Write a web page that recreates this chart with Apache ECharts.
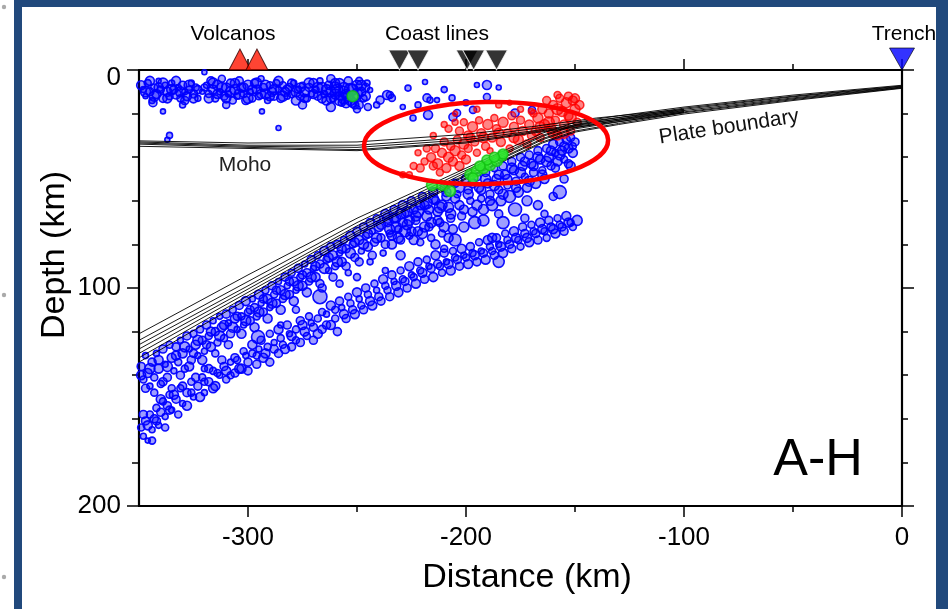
<!DOCTYPE html>
<html><head><meta charset="utf-8">
<script src="https://cdn.jsdelivr.net/npm/echarts@6/dist/echarts.min.js"></script>
<style>html,body{margin:0;padding:0;background:#fff;}#c{width:948px;height:609px;}</style>
</head><body><div id="c"></div>
<script>
// ---- axis ticks ----
const xTicksMajor = [-300, -200, -100, 0];
const xTicksMinor = [-250, -150, -50];
const yTicksMajor = [0, 100, 200];
const yTicksMinor = [20, 40, 60, 80, 120, 140, 160, 180];

// ---- surface markers (distance, km) ----
const volcanoes = [-303.7, -295.9];
const coastLines = [-230.5, -222, -199.5, -196.5, -186];
const trench = [0];

// ---- earthquakes [distance km, depth km, symbol size] ----
const blueShallow = [
[-348,9,6],[-347,12,5],[-346,6,7],[-345,10,8],[-344,14,6],[-343,8,7],[-342,11,9],[-341,5,5],[-340,9,7],[-339,13,8],
[-338,7,6],[-337,10,9],[-336,12,7],[-335,6,6],[-334,9,8],[-333,11,10],[-332,8,6],[-331,13,7],[-330,7,8],[-329,10,6],
[-328,12,9],[-327,9,7],[-326,6,6],[-325,11,8],[-324,8,7],[-323,13,6],[-321,10,5],[-319,7,6],[-318,11,7],[-317,5,8],
[-316,9,9],[-315,13,7],[-314,7,10],[-313,10,6],[-312,4,7],[-311,12,8],[-310,8,9],[-309,11,6],[-308,6,8],[-307,14,7],
[-306,9,10],[-305,12,6],[-304,5,8],[-303,8,9],[-302,11,7],[-301,14,8],[-300,7,10],[-299,10,6],[-298,13,7],[-297,6,8],
[-296,9,9],[-295,12,7],[-294,4,6],[-293,8,8],[-292,11,10],[-291,14,6],[-290,7,7],[-289,10,9],[-288,12,8],[-287,6,7],
[-286,9,6],[-285,13,8],[-284,7,7],[-283,10,9],[-282,12,6],[-281,8,8],[-280,11,7],[-279,6,6],[-278,14,9],[-277,9,7],
[-276,12,8],[-275,7,6],[-274,10,10],[-273,13,7],[-272,8,8],[-271,11,6],[-270,6,9],[-269,9,7],[-268,12,8],[-267,5,6],
[-266,8,10],[-265,11,7],[-264,14,9],[-263,7,8],[-262,10,10],[-261,13,7],[-260,6,9],[-259,9,11],[-258,12,8],[-257,15,7],
[-256,8,10],[-255,11,9],[-254,5,8],[-253,14,10],[-252,9,11],[-251,12,9],[-250,7,10],[-249,16,8],[-248,10,9],[-247,13,7],
[-246,8,8],[-245,17,7],[-262,4,8],[-258,6,9],[-255,15,10],[-251,16,8],[-249,5,7],[-256,13,11],[-260,11,10],[-253,9,12],
[-349,7,9],[-347,10,10],[-345,5,9],[-343,12,10],[-341,8,9],[-339,6,10],[-337,13,9],[-335,9,10],[-333,5,9],[-331,10,10],
[-329,14,8],[-327,7,10],[-325,13,9],[-323,9,8],[-320,8,7],[-318,13,9],[-316,6,10],[-314,11,9],[-312,8,10],[-310,13,9],
[-308,10,10],[-306,6,9],[-304,11,10],[-302,8,9],[-300,13,10],[-298,9,9],[-296,6,10],[-294,11,9],[-292,7,10],[-290,12,9],
[-288,9,10],[-286,5,9],[-284,12,10],[-282,9,9],[-280,6,8],[-278,10,10],[-276,8,9],[-274,13,8],[-272,6,10],[-270,11,9],
[-268,8,10],[-266,13,9],[-264,9,10],[-262,13,9],[-260,8,11],[-258,14,10],[-256,10,11],[-254,12,10],[-252,15,9],[-250,11,11],
[-248,7,10],[-246,12,9]
];
const blueShallowOutliers = [
[-343.6,15,8],[-339,19,5],[-337,32,5],[-336,30,6],[-320,1,5],[-293.6,19,5],[-286,26.6,5],[-330,16,6],[-310,16,7],
[-275,16,8],[-262,17,9],[-250,18,7]
];
const blueWedge = [
[-245.4,6,6],[-244,9.2,5],[-239.4,13.8,8],[-234,12.8,7],[-236.2,11.5,9],[-226.6,8.3,6],[-218.8,5.5,5],[-216.5,13.8,6],
[-217.4,20.6,9],[-206.4,12.8,6],[-196.8,18.3,7],[-195,6.9,5],[-190.4,6.9,9],[-190.4,12.4,7],[-206,21.6,8],[-213.3,13.8,5],
[-234.9,11.5,7],[-204.1,19.7,7],[-169.7,18.3,7],[-177.5,19.7,8],[-224.3,22,6],[-217.9,12.8,8],[-241,16,6],[-229,17,5],
[-222,16,6],[-210,9,6],[-185,8,5],[-200,15,6]
];
const blueUpperPlane = [
[-349,136,8],[-348,142,7],[-347,131,6],[-346,139,9],[-345,145,6],[-344,134,8],[-343,141,7],[-342,130,6],[-341,137,9],[-340,144,7],
[-339,128,8],[-338,135,6],[-337,141,8],[-336,126,7],[-335,132,9],[-334,138,6],[-333,127,8],[-332,134,7],[-331,124,6],[-330,130,9],
[-329,137,7],[-328,122,8],[-327,128,6],[-326,133,8],[-325,121,7],[-324,126,9],[-323,131,6],[-322,119,7],[-321,124,8],[-320,129,6],
[-319,117,8],[-318,122,7],[-317,127,9],[-316,115,6],[-315,120,8],[-314,125,7],[-313,113,6],[-312,118,9],[-311,123,7],[-310,112,8],
[-309,116,6],[-308,121,8],[-307,110,7],[-306,114,9],[-305,119,6],[-304,108,8],[-303,113,7],[-302,117,6],[-301,106,9],[-300,111,7],
[-299,115,8],[-298,105,6],[-297,109,8],[-296,113,7],[-295,103,9],[-294,107,6],[-293,111,8],[-292,101,7],[-291,105,9],[-290,109,6],
[-289,99,8],[-288,103,7],[-287,107,8],[-286,97,6],[-285,101,9],[-284,105,7],[-283,95,8],[-282,99,6],[-281,103,8],[-280,93,7],
[-279,97,9],[-278,101,6],[-277,91,8],[-276,95,7],[-275,99,9],[-274,89,6],[-273,93,8],[-272,97,7],[-271,87,8],[-270,91,6],
[-269,95,9],[-268,85,7],[-267,89,8],[-266,100,8],[-265,83,9],[-264,87,7],[-263,92,6],[-262,81,8],[-261,85,9],[-260,90,7],
[-259,80,8],[-258,84,6],[-257,88,9],[-256,78,7],[-255,82,8],[-254,93,6],[-253,76,9],[-252,80,7],[-251,86,8],[-250,74,8],
[-249,78,9],[-248,83,6],[-247,72,8],[-246,76,7],[-245,81,9],[-244,70,8],[-243,74,6],[-242,79,8],[-241,68,7],[-240,72,9],
[-239,77,8],[-238,84,6],[-237,66,9],[-236,70,8],[-235,75,7],[-234,80,9],[-233,64,8],[-232,68,9],[-231,73,7],[-230,78,8],
[-229,62,9],[-228,66,8],[-227,71,10],[-226,76,7],[-225,60,8],[-224,64,9],[-223,69,8],[-222,74,9],[-221,79,7],[-220,58,8],
[-219,62,9],[-218,67,10],[-217,72,8],[-216,77,7],[-215,56,9],[-214,60,8],[-213,65,9],[-212,70,8],[-211,75,7],[-210,54,8],
[-209,58,9],[-208,63,10],[-207,68,8],[-206,73,9],[-205,52,8],[-204,57,7],[-203,62,9],[-202,67,8],[-201,72,10],[-200,50,9],
[-199,55,8],[-198,60,7],[-197,65,9],[-196,70,12],[-195,49,8],[-194,54,9],[-193,59,7],[-192,64,10],[-191,47,8],[-190,52,9],
[-189,57,8],[-188,62,11],[-187,45,7],[-186,50,9],[-185,55,8],[-184,60,10],[-183,44,8],[-182,48,9],[-181,53,7],[-180,58,12],
[-179,42,8],[-178,46,9],[-177,51,8],[-176,56,10],[-175,40,8],[-174,44,9],[-173,49,7],[-172,54,9],[-171,39,8],[-170,43,9],
[-169,47,8],[-168,52,10],[-167,37,8],[-166,41,9],[-165,46,7],[-164,50,9],[-163,36,8],[-162,40,9],[-161,44,8],[-160,34,9],
[-159,38,7],[-158,42,9],[-157,33,8],[-156,37,9],[-155,41,7],[-154,32,8],[-153,36,9],[-152,31,8],[-151,35,7],[-150,33,8],
[-349,140,9],[-347,146,8],[-345,137,10],[-343,148,7],[-341,133,9],[-339,143,8],[-337,136,10],[-335,146,7],[-333,131,9],[-331,140,8],
[-329,127,10],[-327,136,9],[-325,130,8],[-323,124,10],[-321,133,9],[-319,126,8],[-317,120,9],[-315,130,7],[-313,122,10],[-311,117,9],
[-309,126,8],[-307,118,10],[-305,113,8],[-303,121,9],[-301,115,10],[-299,110,8],[-297,118,9],[-295,111,10],[-293,105,8],[-291,114,9],
[-289,107,10],[-287,101,8],[-285,110,9],[-283,103,10],[-281,97,8],[-279,106,9],[-277,99,10],[-275,94,8],[-273,102,9],[-271,95,10],
[-269,90,9],[-267,98,8],[-265,91,10],[-263,86,9],[-261,95,8],[-259,88,10],[-257,82,9],[-255,90,8],[-253,84,10],[-251,79,9],
[-249,88,8],[-247,80,10],[-245,75,9],[-243,85,8],[-241,77,10],[-239,71,9],[-237,80,8],[-235,73,10],[-233,68,9],[-231,77,10],
[-229,70,9],[-227,65,10],[-225,74,9],[-223,67,10],[-221,62,9],[-219,72,10],[-217,64,9],[-215,59,10],[-213,69,9],[-211,62,10],
[-209,56,9],[-207,66,10],[-205,59,9],[-203,54,10],[-201,64,9],[-199,57,10],[-197,52,9],[-195,62,10],[-193,55,9],[-191,50,10],
[-189,60,9],[-187,53,10],[-185,48,9],[-183,57,10],[-181,50,9],[-179,45,10],[-177,54,9],[-175,47,10],[-173,42,9],[-171,51,10],
[-169,44,9],[-167,40,10],[-165,48,9],[-163,42,10],[-161,37,9],[-159,45,8],[-157,39,10],[-155,35,9],[-153,43,8],[-151,38,9],
[-230,66,10],[-228,74,11],[-226,69,10],[-224,78,9],[-222,65,11],[-220,75,10],[-218,61,11],[-216,70,10],[-214,80,9],[-212,63,11],
[-210,72,10],[-208,77,9],[-232,72,10],[-234,76,9],[-236,68,10]
];
const blueLowerPlane = [
[-349,164,7],[-348,168,6],[-347,161,8],[-346,170,5],[-345,158,7],[-344,165,6],[-343,160,8],[-342,155,7],[-341,163,6],[-340,157,8],
[-339,152,7],[-338,159,6],[-337,154,8],[-336,149,7],[-335,156,6],[-333,151,8],[-331,146,7],[-330,153,6],[-328,148,8],[-326,143,7],
[-325,150,6],[-323,145,8],[-321,141,7],[-320,148,6],[-318,143,8],[-316,138,7],[-315,145,9],[-313,140,6],[-311,136,8],[-310,142,7],
[-308,134,6],[-306,139,8],[-305,133,7],[-303,137,9],[-301,131,6],[-300,138,8],[-298,130,7],[-296,135,8],[-295,128,6],[-293,132,9],
[-291,127,7],[-290,134,8],[-288,125,6],[-286,130,8],[-285,123,7],[-283,128,9],[-281,121,6],[-280,127,8],[-278,119,7],[-276,125,8],
[-275,117,9],[-273,122,7],[-271,116,6],[-270,124,8],[-268,114,7],[-266,119,8],[-264,112,6],[-262,117,9],[-260,110,7],[-259,120,8],
[-257,109,6],[-255,114,8],[-253,107,7],[-251,112,9],[-249,105,6],[-247,110,8],[-245,103,7],[-243,108,9],[-241,101,6],[-239,106,8],
[-237,99,7],[-235,104,8],[-233,97,6],[-231,102,9],[-229,96,7],[-227,100,8],[-225,94,6],[-223,98,9],[-221,92,7],[-219,96,8],
[-217,90,6],[-215,95,9],[-213,89,8],[-211,93,7],[-209,88,6],[-207,92,9],[-205,86,7],[-203,90,8],[-201,85,6],[-199,89,9],
[-197,84,7],[-195,88,8],[-193,83,6],[-191,87,9],[-189,81,7],[-187,85,8],[-185,80,6],[-183,84,9],[-181,78,7],[-179,82,8],
[-177,77,9],[-175,81,7],[-173,75,8],[-171,79,9],[-169,74,7],[-167,78,8],[-165,73,9],[-163,77,7],[-161,72,8],[-159,75,9],
[-157,71,7],[-155,74,8],[-153,70,9],[-151,72,7],
[-348,158,8],[-346,163,9],[-344,170,7],[-342,161,8],[-340,151,9],[-338,164,7],[-336,156,8],[-334,149,9],[-332,158,7],[-330,145,8],
[-328,154,9],[-326,148,7],[-324,141,8],[-322,150,9],[-320,143,7],[-318,137,8],[-316,146,9],[-314,139,7],[-312,133,8],[-310,138,9],
[-308,140,7],[-306,132,8],[-304,137,9],[-302,129,7],[-300,134,8],[-298,126,9],[-296,131,7],[-294,124,8],[-292,130,9],[-290,121,7],
[-288,128,8],[-286,119,9],[-284,126,7],[-282,117,8],[-280,122,9],[-278,124,7],[-276,115,8],[-274,120,9],[-272,113,7],[-270,118,8],
[-268,121,9],[-266,111,7],[-264,117,8],[-262,108,9],[-260,114,7],[-258,106,8],[-256,112,9],[-254,104,7],[-252,110,8],[-250,102,9],
[-248,108,7],[-246,100,8],[-244,106,9],[-242,98,7],[-240,104,8],[-238,96,9],[-236,101,7],[-234,94,8],[-232,99,9],[-230,92,7],
[-228,97,8],[-226,90,9],[-224,95,7],[-222,88,8],[-220,93,9],[-218,87,7],[-216,91,8],[-214,85,9],[-212,90,7],[-210,84,8],
[-208,89,9],[-206,83,7],[-204,87,8],[-202,82,9],[-200,86,7],[-198,81,8],[-196,85,9],[-194,79,7],[-192,84,8],[-190,78,9],
[-188,83,7],[-186,77,8],[-184,81,9],[-182,75,7],[-180,80,8],[-178,74,9],[-176,78,7],[-174,72,8],[-172,77,9],[-170,71,7],
[-168,75,8],[-166,70,9],[-164,74,7],[-162,69,8],[-160,73,9],[-158,68,7],[-156,72,8],[-154,67,9],[-152,70,7]
];
const blueLarge = [
[-157,56,13],[-177.5,64,13],[-183,70,12],[-149,69,10],[-167,62,9],[-160,58,8],[-173,68,8],[-192,69,11],[-205,78,12],
[-188,77,9],[-172,60,10],[-164,66,7],[-185,88,11],[-230,85,9],[-267,104,14],[-250,95,7],[-278,110,7],[-295.4,122.5,13],
[-237,92,6],[-210,82,7],[-185,66,8],[-155,50,8],[-152,44,9],[-258,98,7],[-244,88,6],[-320,137,6],[-285,117,6]
];
const redQuakes = [
[-216,40,9],[-214,36,8],[-213,43,10],[-211,38,9],[-210,33,8],[-209,45,9],[-208,40,10],[-207,35,8],[-206,42,9],[-205,37,10],
[-204,32,8],[-203,44,9],[-202,39,8],[-201,34,10],[-200,41,9],[-199,36,8],[-198,31,9],[-215,44,8],[-212,47,7],[-219,42,7],
[-221,45,8],[-224,44,7],[-229,48,6],[-226,48,6],[-218,36,7],
[-203,28,8],[-201,24,7],[-199,30,9],[-197,26,10],[-196,33,8],[-194,23,7],[-193,29,9],[-191,35,8],[-190,25,10],[-188,31,9],
[-187,22,7],[-186,27,8],[-184,33,9],[-183,24,10],[-181,29,8],[-180,36,7],[-179,21,8],[-178,26,9],[-176,32,10],[-175,23,8],
[-174,28,9],[-172,34,8],[-171,25,9],[-195,38,7],[-189,37,6],[-205,24,6],[-208,27,7],[-210,25,6],
[-168,28,9],[-167,22,10],[-166,31,8],[-165,18,9],[-164,25,10],[-163,14,8],[-162,20,9],[-161,27,10],[-160,16,9],[-159,23,8],
[-158,30,9],[-157,13,8],[-156,19,10],[-155,25,9],[-154,15,10],[-153,21,9],[-152,28,8],[-151,14,9],[-150,18,10],[-149,24,8],
[-148,16,9],[-169,20,7],[-170,30,8],[-158,11.5,7],[-170,19,6],[-153,12,8],[-150,13,9],
[-205,20,5],[-195,18,6],[-185,16,6],[-180,15,5],[-175,18,6],[-215,30,6],[-222,38,6],
[-162,24,11],[-158,18,11],[-155,29,10],[-152,22,11],[-166,26,10],[-160,29,10],[-192,31,10],[-185,29,10],[-178,31,10]
];
const greenQuakes = [
[-252,12,11],[-215.6,52.8,11],[-211,53,10],[-207.3,55.5,11],[-198,48,11],[-195,46.3,11],[-192,45,11],[-189,43.6,11],
[-185.8,41.7,11],[-183.5,39.4,10],[-183,38.5,10],[-190.4,41.3,10],[-196.8,49.5,10],[-193.6,44,10],[-187,40,10]
];

// ---- model lines [distance km, depth km] ----
const plateBoundary1 = [[0,7],[-50,11.5],[-100,17],[-130,21],[-150,24],[-165,29],[-200,45],[-250,68],[-300,94],[-350,121]];
const plateBoundary2 = [[0,7.3],[-50,12],[-100,17.5],[-130,21.8],[-150,25],[-165,30],[-200,46],[-250,70],[-300,97],[-350,124]];
const plateBoundary3 = [[0,7.5],[-50,12.3],[-100,18],[-130,22.5],[-150,25.5],[-165,30.5],[-200,47],[-250,71.5],[-300,99],[-350,126]];
const plateBoundary4 = [[0,7.8],[-50,12.8],[-100,18.6],[-130,23],[-150,26.5],[-165,31.5],[-200,48],[-250,72.5],[-300,100.5],[-350,128]];
const plateBoundary5 = [[0,8],[-50,13.2],[-100,19.2],[-130,23.8],[-150,27],[-165,32],[-200,48.5],[-250,74],[-300,102],[-350,130]];
const plateBoundary6 = [[0,8.2],[-50,13.6],[-100,19.6],[-130,24.5],[-150,28],[-165,33],[-200,49.5],[-250,75],[-300,103.5],[-350,132]];
const plateBoundary7 = [[0,8.4],[-50,14],[-100,20.2],[-130,25],[-150,28.5],[-165,33.5],[-200,50],[-250,76],[-300,105],[-350,134]];
const moho1 = [[-350,32.5],[-300,33.5],[-250,33],[-200,29.5],[-170,26],[-140,22],[-110,19],[-100,18]];
const moho2 = [[-350,33],[-300,34.5],[-250,34.5],[-200,31],[-170,27],[-140,23],[-110,19.5],[-100,18.5]];
const moho3 = [[-350,33.5],[-300,35],[-250,35.5],[-200,32],[-170,28],[-140,23.8],[-110,20],[-100,19]];
const moho4 = [[-350,34],[-300,35.5],[-250,36.5],[-200,33],[-170,28.5],[-140,24.5],[-110,20.5],[-100,19.3]];
const moho5 = [[-350,35],[-300,36],[-250,37],[-200,33.5],[-170,29],[-140,25],[-110,21],[-100,19.6]];

// ---- annotation ellipse (data units) ----
const ellipseCenter = [-190.8, 33.5];
const ellipseRadii = [56, 18.8];

const FONT = '"Liberation Sans", Arial, Helvetica, sans-serif';
const chart = echarts.init(document.getElementById('c'), null, {renderer: 'canvas'});

function mkX(pos, vals, len, showLine, showLabel) {
  return {
    type: 'value', min: -350, max: 0, position: pos, gridIndex: 0,
    axisLine: {show: showLine, onZero: false, lineStyle: {color: '#000', width: 2.2}},
    axisTick: {show: true, inside: false, length: len, customValues: vals, lineStyle: {color: '#000', width: 1.5}},
    axisLabel: {show: showLabel, customValues: vals, fontSize: 26, color: '#000', fontFamily: FONT, margin: 19},
    splitLine: {show: false}
  };
}
function mkY(pos, vals, len, showLine, showLabel) {
  return {
    type: 'value', min: 0, max: 200, inverse: true, position: pos, gridIndex: 0,
    axisLine: {show: showLine, onZero: false, lineStyle: {color: '#000', width: 2.2}},
    axisTick: {show: true, inside: false, length: len, customValues: vals, lineStyle: {color: '#000', width: 1.5}},
    axisLabel: {show: showLabel, customValues: vals, fontSize: 26, color: '#000', fontFamily: FONT, margin: 18,
      formatter: (v) => (v === 0 ? '{z|0}' : String(v)),
      rich: {z: {fontSize: 26, fontFamily: FONT, color: '#000', padding: [16, 0, 0, 0]}}},
    splitLine: {show: false}
  };
}

const blueStyle = {color: 'rgba(0,0,255,0.4)', borderColor: '#0000ff', borderWidth: 1.6, opacity: 0.95};
const lineSeries = (d) => ({
  type: 'line', data: d, xAxisIndex: 0, yAxisIndex: 0, showSymbol: false, symbol: 'none',
  lineStyle: {color: '#000', width: 1, opacity: 0.9}, z: 4, silent: true, animation: false
});

const option = {
  animation: false,
  backgroundColor: '#ffffff',
  grid: {left: 139, right: 46, top: 70, bottom: 103},
  xAxis: [
    mkX('bottom', xTicksMajor, 11, true, true),
    mkX('bottom', xTicksMinor, 6, false, false),
    mkX('top', xTicksMajor, 11, true, false),
    mkX('top', xTicksMinor, 6, false, false)
  ],
  yAxis: [
    mkY('left', yTicksMajor, 12, true, true),
    mkY('left', yTicksMinor, 7, false, false),
    mkY('right', yTicksMajor, 12, true, false),
    mkY('right', yTicksMinor, 6, false, false)
  ],
  series: [
    {type: 'scatter', name: 'Earthquakes', xAxisIndex: 0, yAxisIndex: 0,
     data: [].concat(blueShallow, blueShallowOutliers, blueWedge, blueUpperPlane, blueLowerPlane, blueLarge),
     symbolSize: (d) => d[2], itemStyle: blueStyle, z: 2, large: false},
    {type: 'scatter', name: 'Selected events', xAxisIndex: 0, yAxisIndex: 0, data: redQuakes,
     symbolSize: (d) => d[2], itemStyle: {color: 'rgba(255,0,0,0.6)', borderColor: '#ff0000', borderWidth: 1.5}, z: 3},
    lineSeries(plateBoundary1), lineSeries(plateBoundary2), lineSeries(plateBoundary3), lineSeries(plateBoundary4),
    lineSeries(plateBoundary5), lineSeries(plateBoundary6), lineSeries(plateBoundary7),
    lineSeries(moho1), lineSeries(moho2), lineSeries(moho3), lineSeries(moho4), lineSeries(moho5),
    {type: 'scatter', name: 'Green events', xAxisIndex: 0, yAxisIndex: 0, data: greenQuakes,
     symbolSize: (d) => d[2], itemStyle: {color: '#2ee62e', borderColor: '#12c012', borderWidth: 1.5}, z: 5},
    {type: 'scatter', name: 'Volcanos', xAxisIndex: 0, yAxisIndex: 0, clip: false,
     data: volcanoes.map(v => [v, 0]), symbol: 'path://M10,0L20,20L0,20Z', symbolSize: [22, 21],
     symbolOffset: [0, '-50%'], itemStyle: {color: '#ff1500', borderColor: '#330000', borderWidth: 1}, z: 6},
    {type: 'scatter', name: 'Coast lines', xAxisIndex: 0, yAxisIndex: 0, clip: false,
     data: coastLines.map(v => [v, 0]), symbol: 'path://M0,0L20,0L10,20Z', symbolSize: [22, 20],
     symbolOffset: [0, '-50%'], itemStyle: {color: '#000', borderColor: '#fff', borderWidth: 1}, z: 6},
    {type: 'scatter', name: 'Trench', xAxisIndex: 0, yAxisIndex: 0, clip: false,
     data: trench.map(v => [v, 0]), symbol: 'path://M0,0L20,0L10,20Z', symbolSize: [25, 22],
     symbolOffset: [0, '-50%'], itemStyle: {color: '#0000ff', borderColor: '#000', borderWidth: 0.8}, z: 6}
  ]
};
chart.setOption(option);

const c = chart.convertToPixel({gridIndex: 0}, ellipseCenter);
const e = chart.convertToPixel({gridIndex: 0}, [ellipseCenter[0] + ellipseRadii[0], ellipseCenter[1] + ellipseRadii[1]]);
const frameBlue = '#21497c';
const txt = (x, y, s, size, extra, rot) => ({
  type: 'text', x: x, y: y, z: 20, rotation: rot || 0, originX: 0, originY: 0,
  style: Object.assign({text: s, fontSize: size, fontFamily: FONT, fill: '#000', align: 'center', verticalAlign: 'middle'}, extra || {})
});
chart.setOption({
  graphic: [
    {type: 'rect', shape: {x: 14, y: 0, width: 8, height: 609}, style: {fill: frameBlue}, z: 30},
    {type: 'rect', shape: {x: 14, y: 0, width: 934, height: 7}, style: {fill: frameBlue}, z: 30},
    {type: 'rect', shape: {x: 936, y: 0, width: 12, height: 609}, style: {fill: frameBlue}, z: 30},
    {type: 'circle', shape: {cx: 4, cy: 7, r: 2.2}, style: {fill: '#aaa'}, z: 30},
    {type: 'circle', shape: {cx: 4, cy: 295, r: 2.2}, style: {fill: '#aaa'}, z: 30},
    {type: 'circle', shape: {cx: 4, cy: 577, r: 2.2}, style: {fill: '#aaa'}, z: 30},
    {type: 'ellipse', shape: {cx: 0, cy: 0, rx: e[0] - c[0], ry: e[1] - c[1]},
     x: c[0], y: c[1], rotation: 0.025,
     style: {fill: 'none', stroke: '#ff0000', lineWidth: 4.5}, z: 25},
    txt(233, 34, 'Volcanos', 21),
    txt(437, 34, 'Coast lines', 21),
    txt(904, 34, 'Trench', 21),
    txt(245, 165, 'Moho', 21, {fill: '#222'}),
    txt(729, 127, 'Plate boundary', 21, {fill: '#111'}, 0.153),
    txt(818, 461, 'A-H', 52),
    txt(527, 578, 'Distance (km)', 34),
    txt(55, 255, 'Depth (km)', 34, null, Math.PI / 2)
  ]
});
</script>
</body></html>
